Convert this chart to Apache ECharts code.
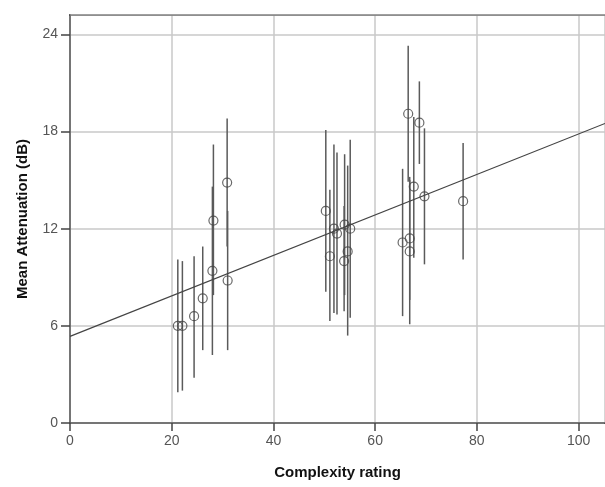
<!DOCTYPE html>
<html>
<head>
<meta charset="utf-8">
<script src="https://cdn.jsdelivr.net/npm/echarts@6/dist/echarts.min.js"></script>
<style>
html,body{margin:0;padding:0;background:#fff;}
#chart{width:605px;height:487px;}
</style>
</head>
<body>
<div id="chart"></div>
<script>
// Complexity rating (x) for each stimulus
var complexity = [21.2, 22.1, 24.4, 26.1, 28.0, 28.2, 30.9, 31.0,
                  50.3, 51.1, 51.9, 52.5, 54.0, 53.9, 54.6, 55.1,
                  65.4, 66.5, 66.8, 66.8, 67.6, 68.7, 69.7, 77.3];
// Mean attenuation (dB)
var meanAtt = [6.0, 6.0, 6.6, 7.7, 9.4, 12.5, 14.85, 8.8,
               13.1, 10.3, 12.0, 11.7, 12.25, 10.0, 10.6, 12.0,
               11.15, 19.1, 11.4, 10.6, 14.6, 18.55, 14.0, 13.7];
// Error bar lower and upper ends (dB)
var lowAtt = [1.9, 2.0, 2.8, 4.5, 4.2, 7.9, 10.9, 4.5,
              8.1, 6.3, 6.8, 6.7, 7.9, 6.9, 5.4, 6.5,
              6.6, 14.9, 7.6, 6.1, 10.2, 16.0, 9.8, 10.1];
var highAtt = [10.1, 10.0, 10.3, 10.9, 14.6, 17.2, 18.8, 13.1,
               18.1, 14.4, 17.2, 16.7, 16.6, 13.4, 15.9, 17.5,
               15.7, 23.3, 15.2, 15.0, 18.9, 21.1, 18.2, 17.3];
// Fit line end points
var fitX = [0, 105.2];
var fitY = [5.35, 18.5];
var yTicks = [0, 6, 12, 18, 24];
var xTicks = [0, 20, 40, 60, 80, 100];

var points = complexity.map(function (x, i) { return [x, meanAtt[i]]; });
var bars = complexity.map(function (x, i) { return [x, lowAtt[i], highAtt[i]]; });
var fit = fitX.map(function (x, i) { return [x, fitY[i]]; });

var chart = echarts.init(document.getElementById('chart'), null, {renderer: 'canvas'});
var labelFont = {color: '#555', fontSize: 14, fontFamily: 'Liberation Sans, Arial, sans-serif'};
chart.setOption({
  animation: false,
  grid: {left: 70, top: 15, right: -1, bottom: 64},
  xAxis: {
    type: 'value', min: 0, max: 105.2, interval: 20,
    name: 'Complexity rating', nameLocation: 'middle', nameGap: 42,
    nameTextStyle: {color: '#111', fontSize: 15, fontWeight: 'bold', fontFamily: 'Liberation Sans, Arial, sans-serif'},
    axisLine: {show: true, onZero: false, lineStyle: {color: '#555', width: 1.5}},
    axisTick: {show: true, inside: false, length: 8, lineStyle: {color: '#444', width: 1.5}},
    axisLabel: Object.assign({margin: 11, customValues: xTicks}, labelFont),
    splitLine: {show: true, lineStyle: {color: '#c8c8c8', width: 1.5}}
  },
  yAxis: {
    type: 'value', min: 0, max: 25.2, interval: 6,
    name: 'Mean Attenuation (dB)', nameLocation: 'middle', nameGap: 40, nameRotate: 90,
    nameTextStyle: {color: '#111', fontSize: 15, fontWeight: 'bold', fontFamily: 'Liberation Sans, Arial, sans-serif'},
    axisLine: {show: true, onZero: false, lineStyle: {color: '#555', width: 1.5}},
    axisTick: {show: true, inside: false, length: 9, lineStyle: {color: '#444', width: 1.5}},
    axisLabel: Object.assign({margin: 12, customValues: yTicks}, labelFont),
    splitLine: {show: true, lineStyle: {color: '#c8c8c8', width: 1.5}}
  },
  graphic: [
    {type: 'rect', z: 100, shape: {x: 55, y: 11, width: 14, height: 7}, style: {fill: '#fff'}},
    {type: 'rect', z: 100, shape: {x: 598, y: 424, width: 10, height: 12}, style: {fill: '#fff'}}
  ],
  series: [
    {
      type: 'custom',
      data: bars,
      z: 3,
      renderItem: function (params, api) {
        var x = api.value(0);
        var p1 = api.coord([x, api.value(1)]);
        var p2 = api.coord([x, api.value(2)]);
        return {
          type: 'line',
          shape: {x1: p1[0], y1: p1[1], x2: p2[0], y2: p2[1]},
          style: {stroke: '#5a5a5a', lineWidth: 1.5}
        };
      }
    },
    {
      type: 'line',
      data: fit,
      showSymbol: false,
      symbol: 'none',
      z: 4,
      lineStyle: {color: '#444', width: 1.2}
    },
    {
      type: 'scatter',
      data: points,
      symbol: 'circle',
      symbolSize: 9,
      z: 5,
      itemStyle: {color: 'rgba(255,255,255,0)', borderColor: '#444', borderWidth: 1.2}
    },
    {
      type: 'line',
      data: [[0, 25.2], [105.2, 25.2]],
      showSymbol: false,
      symbol: 'none',
      silent: true,
      z: 2,
      lineStyle: {color: '#777', width: 1.5}
    }
  ]
});
</script>
</body>
</html>
